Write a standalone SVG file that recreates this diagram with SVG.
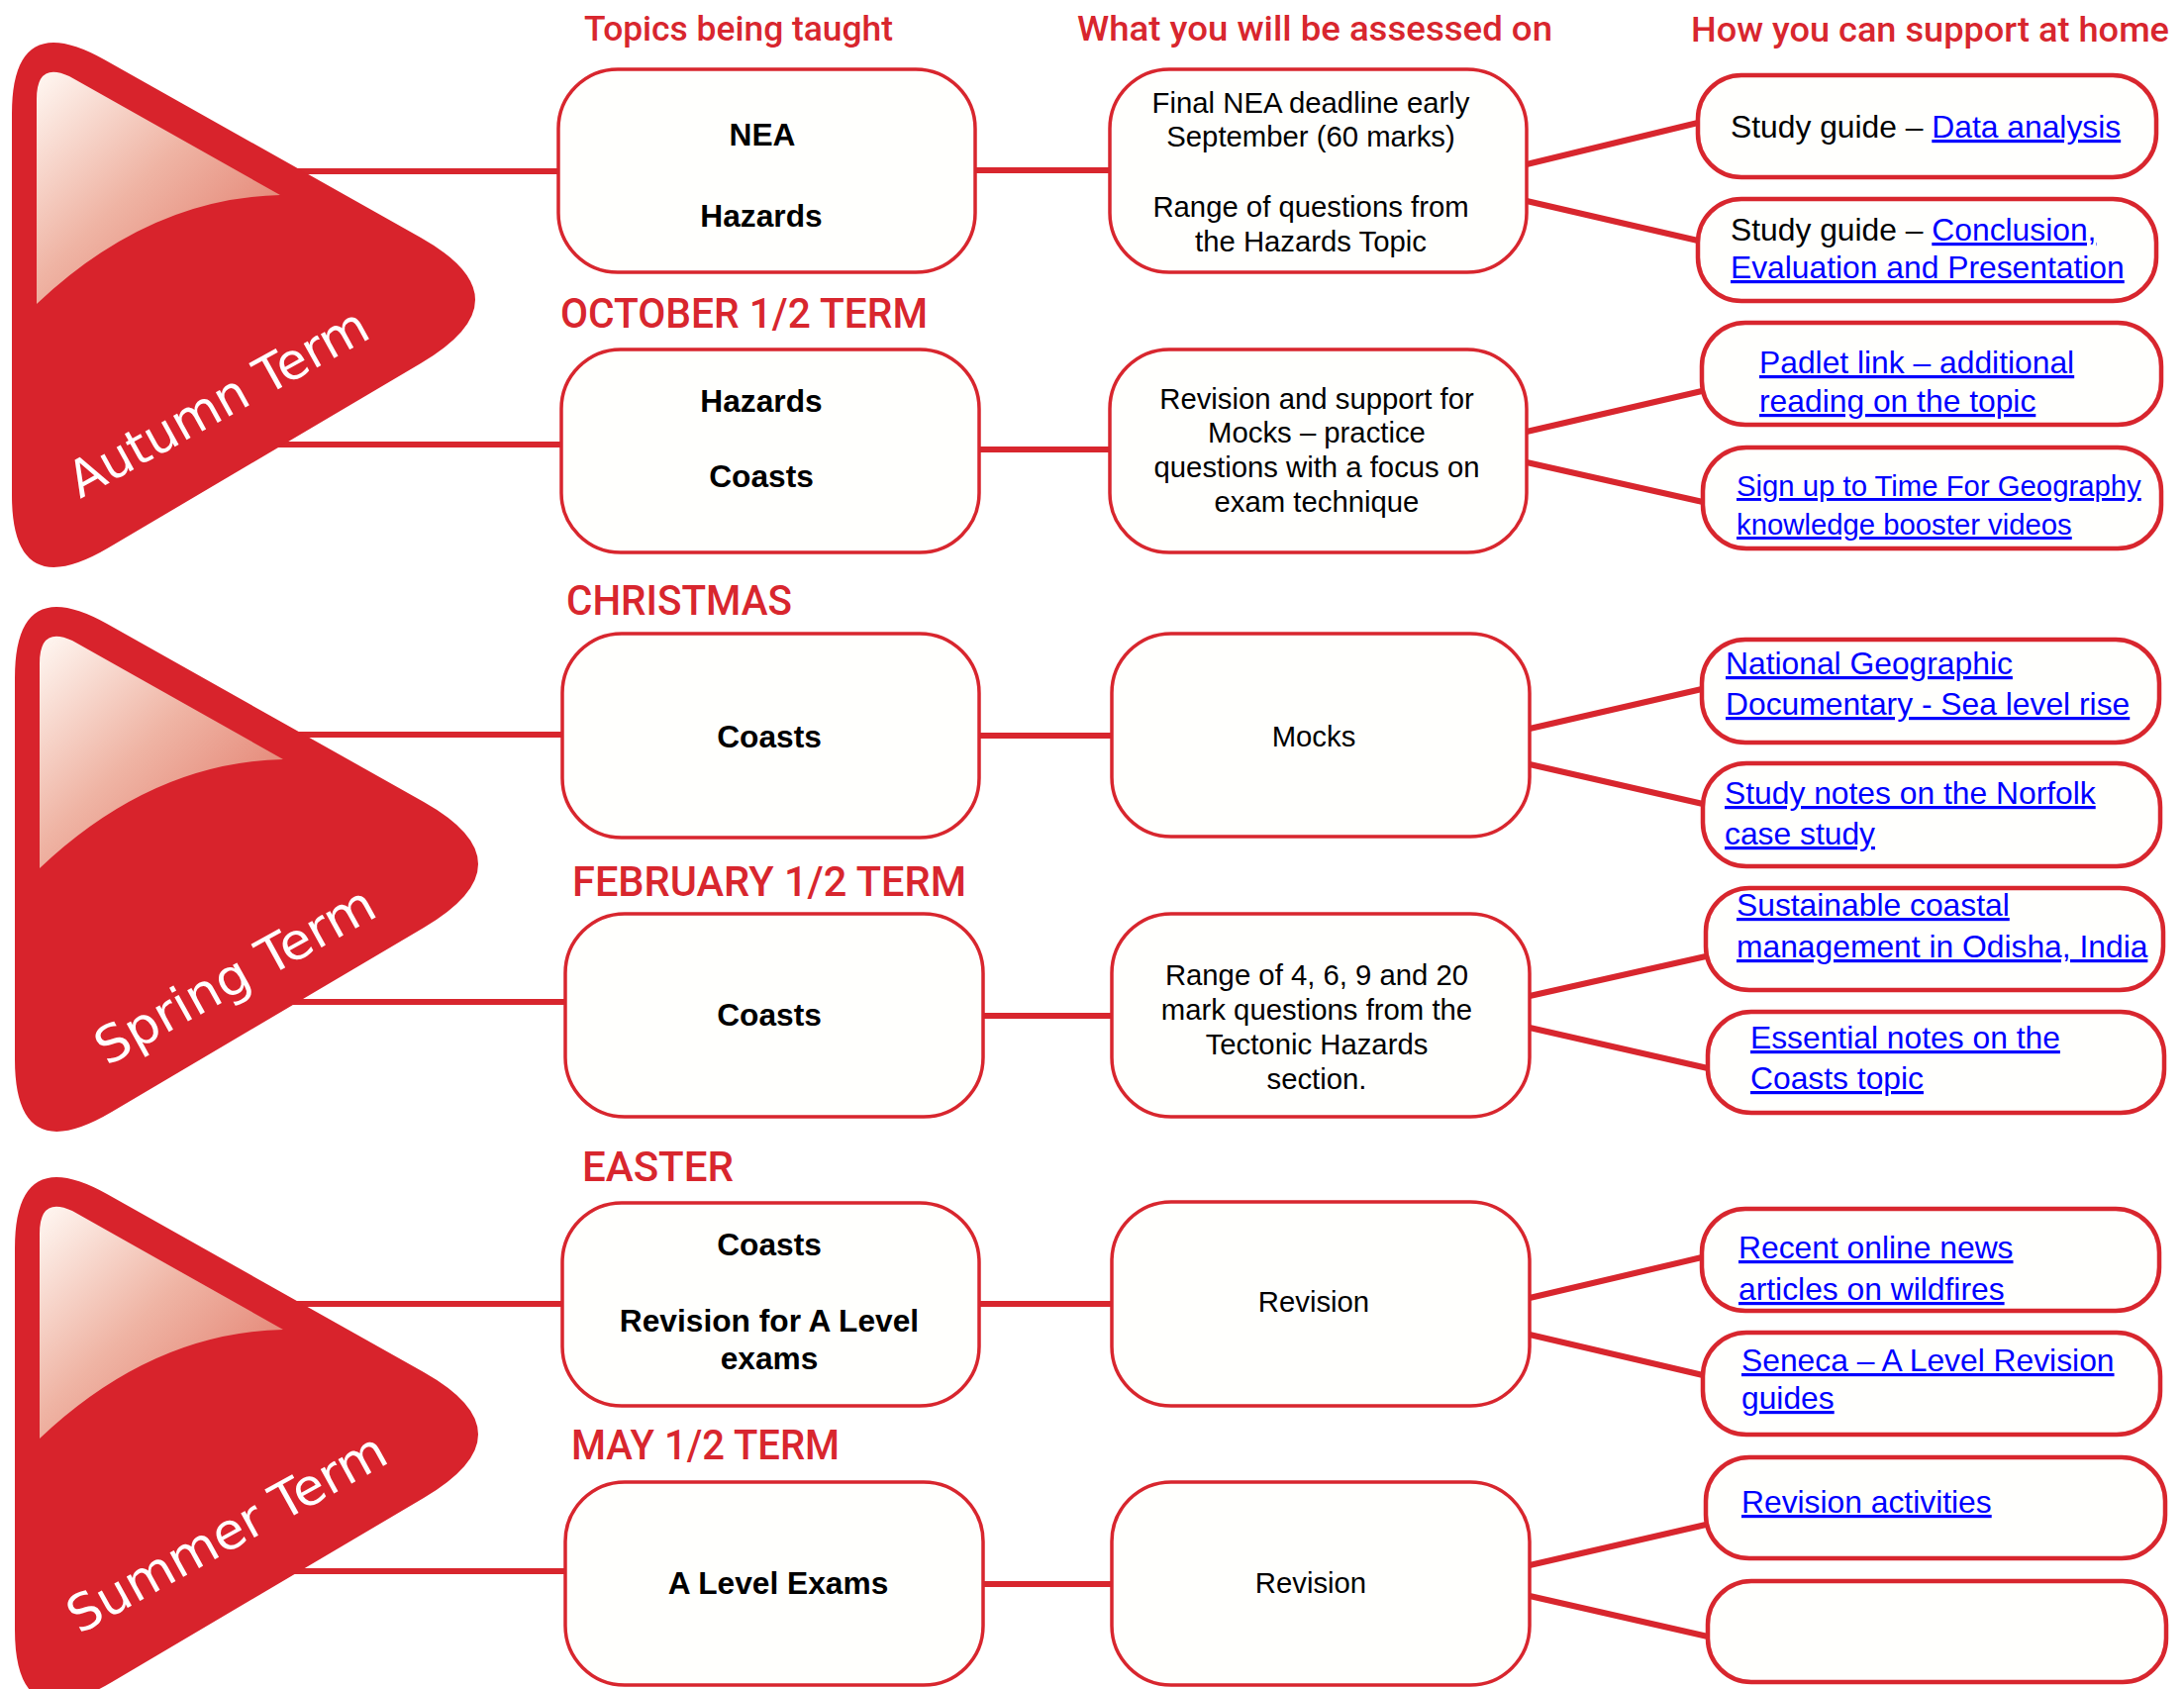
<svg xmlns="http://www.w3.org/2000/svg" width="2206" height="1706" viewBox="0 0 2206 1706">
<defs>
<linearGradient id="hl" x1="0" y1="0" x2="1" y2="1">
<stop offset="0" stop-color="#fff8f3"/>
<stop offset="0.45" stop-color="#efb4a4"/>
<stop offset="1" stop-color="#df6f5f"/>
</linearGradient>
<g id="tri">
<path d="M 12,115 Q 12,8 105,60 L 425,240 Q 535,302 425,367 L 110,553 Q 12,611 12,500 Z" fill="#d8232c"/>
<path d="M 37,100 Q 37,62 70,77 L 283,197 Q 150,200 37,307 Z" fill="url(#hl)"/>
</g>
</defs>
<style>
.conn{stroke:#d8262e;stroke-width:6;fill:none}
.b1{fill:#fffffd;stroke:#d8262e;stroke-width:3.5}
.b3{fill:#fffffd;stroke:#d8262e;stroke-width:4.5}
.hd{font-family:Roboto,"Liberation Sans",sans-serif;font-weight:500;fill:#d8262e;font-size:35px}
.br{font-family:Roboto,"Liberation Sans",sans-serif;font-weight:500;fill:#d8262e;font-size:43px}
.t1{font-family:"Liberation Sans",Arial,sans-serif;font-weight:bold;font-size:31.7px;fill:#000;text-anchor:middle}
.t2{font-family:"Liberation Sans",Arial,sans-serif;font-size:29.3px;fill:#000;text-anchor:middle}
.t3{font-family:"Liberation Sans",Arial,sans-serif;font-size:31.8px;fill:#000}
.lk{fill:#0000ff;text-decoration:underline}
.term{font-family:"DejaVu Sans","Open Sans",sans-serif;font-size:51px;fill:#fff}
</style>

<g id="connectors">
<line class="conn" x1="250" y1="173" x2="564" y2="173"/>
<line class="conn" x1="250" y1="449" x2="567" y2="449"/>
<line class="conn" x1="250" y1="742" x2="568" y2="742"/>
<line class="conn" x1="250" y1="1012" x2="571" y2="1012"/>
<line class="conn" x1="250" y1="1317" x2="568" y2="1317"/>
<line class="conn" x1="250" y1="1587" x2="571" y2="1587"/>
<line class="conn" x1="985" y1="172" x2="1121" y2="172"/>
<line class="conn" x1="989" y1="454" x2="1121" y2="454"/>
<line class="conn" x1="989" y1="743" x2="1123" y2="743"/>
<line class="conn" x1="993" y1="1026" x2="1123" y2="1026"/>
<line class="conn" x1="989" y1="1317" x2="1123" y2="1317"/>
<line class="conn" x1="993" y1="1600" x2="1123" y2="1600"/>
<line class="conn" x1="1542" y1="166" x2="1715" y2="124"/>
<line class="conn" x1="1542" y1="203" x2="1715" y2="243"/>
<line class="conn" x1="1542" y1="436" x2="1719" y2="395"/>
<line class="conn" x1="1542" y1="467" x2="1720" y2="507"/>
<line class="conn" x1="1545" y1="736" x2="1719" y2="696"/>
<line class="conn" x1="1545" y1="772" x2="1720" y2="812"/>
<line class="conn" x1="1545" y1="1006" x2="1723" y2="966"/>
<line class="conn" x1="1545" y1="1038" x2="1725" y2="1079"/>
<line class="conn" x1="1545" y1="1311" x2="1719" y2="1270"/>
<line class="conn" x1="1545" y1="1348" x2="1720" y2="1389"/>
<line class="conn" x1="1545" y1="1581" x2="1723" y2="1540"/>
<line class="conn" x1="1545" y1="1612" x2="1725" y2="1653"/>
</g>

<g id="autumn-term">
<use href="#tri"/>
<text class="term" x="81" y="504" transform="rotate(-29 81 504)" textLength="338" lengthAdjust="spacingAndGlyphs">Autumn Term</text>
</g>
<g id="spring-term">
<use href="#tri" transform="translate(3 570)"/>
<text class="term" x="108" y="1077" transform="rotate(-29 108 1077)" textLength="315" lengthAdjust="spacingAndGlyphs">Spring Term</text>
</g>
<g id="summer-term">
<use href="#tri" transform="translate(3 1146)"/>
<text class="term" x="80" y="1651" transform="rotate(-29 80 1651)" textLength="360" lengthAdjust="spacingAndGlyphs">Summer Term</text>
</g>

<g id="headers">
<text class="hd" x="590" y="41" textLength="312" lengthAdjust="spacingAndGlyphs">Topics being taught</text>
<text class="hd" x="1088" y="41" textLength="480" lengthAdjust="spacingAndGlyphs">What you will be assessed on</text>
<text class="hd" x="1708" y="42" textLength="483" lengthAdjust="spacingAndGlyphs">How you can support at home</text>
<text class="br" x="566" y="331" textLength="371" lengthAdjust="spacingAndGlyphs">OCTOBER 1/2 TERM</text>
<text class="br" x="572" y="621" textLength="228" lengthAdjust="spacingAndGlyphs">CHRISTMAS</text>
<text class="br" x="578" y="905" textLength="398" lengthAdjust="spacingAndGlyphs">FEBRUARY 1/2 TERM</text>
<text class="br" x="588" y="1193" textLength="153" lengthAdjust="spacingAndGlyphs">EASTER</text>
<text class="br" x="577" y="1474" textLength="271" lengthAdjust="spacingAndGlyphs">MAY 1/2 TERM</text>
</g>

<g id="topic-a1"><rect class="b1" x="564" y="70" width="421" height="205" rx="60"/>
<text class="t1" x="770" y="147">NEA</text><text class="t1" x="769" y="229">Hazards</text></g>
<g id="topic-a2"><rect class="b1" x="567" y="353" width="422" height="205" rx="60"/>
<text class="t1" x="769" y="416">Hazards</text><text class="t1" x="769" y="492">Coasts</text></g>
<g id="topic-s1"><rect class="b1" x="568" y="640" width="421" height="206" rx="60"/>
<text class="t1" x="777" y="755">Coasts</text></g>
<g id="topic-s2"><rect class="b1" x="571" y="923" width="422" height="205" rx="60"/>
<text class="t1" x="777" y="1036">Coasts</text></g>
<g id="topic-u1"><rect class="b1" x="568" y="1215" width="421" height="205" rx="60"/>
<text class="t1" x="777" y="1268">Coasts</text><text class="t1" x="777" y="1345">Revision for A Level</text><text class="t1" x="777" y="1383">exams</text></g>
<g id="topic-u2"><rect class="b1" x="571" y="1497" width="422" height="205" rx="60"/>
<text class="t1" x="786" y="1610">A Level Exams</text></g>

<g id="assess-a1"><rect class="b1" x="1121" y="70" width="421" height="205" rx="60"/>
<text class="t2" x="1324" y="114">Final NEA deadline early</text><text class="t2" x="1324" y="148">September (60 marks)</text>
<text class="t2" x="1324" y="219">Range of questions from</text><text class="t2" x="1324" y="254">the Hazards Topic</text></g>
<g id="assess-a2"><rect class="b1" x="1121" y="353" width="421" height="205" rx="60"/>
<text class="t2" x="1330" y="413">Revision and support for</text><text class="t2" x="1330" y="447">Mocks – practice</text>
<text class="t2" x="1330" y="482">questions with a focus on</text><text class="t2" x="1330" y="517">exam technique</text></g>
<g id="assess-s1"><rect class="b1" x="1123" y="640" width="422" height="205" rx="60"/>
<text class="t2" x="1327" y="754">Mocks</text></g>
<g id="assess-s2"><rect class="b1" x="1123" y="923" width="422" height="205" rx="60"/>
<text class="t2" x="1330" y="995">Range of 4, 6, 9 and 20</text><text class="t2" x="1330" y="1030">mark questions from the</text>
<text class="t2" x="1330" y="1065">Tectonic Hazards</text><text class="t2" x="1330" y="1100">section.</text></g>
<g id="assess-u1"><rect class="b1" x="1123" y="1214" width="422" height="206" rx="60"/>
<text class="t2" x="1327" y="1325">Revision</text></g>
<g id="assess-u2"><rect class="b1" x="1123" y="1497" width="422" height="205" rx="60"/>
<text class="t2" x="1324" y="1609">Revision</text></g>

<g id="home-1"><rect class="b3" x="1715" y="76" width="463" height="103" rx="44"/>
<text class="t3" x="1748" y="139">Study guide – <tspan class="lk">Data analysis</tspan></text></g>
<g id="home-2"><rect class="b3" x="1715" y="201" width="463" height="103" rx="44"/>
<text class="t3" x="1748" y="243">Study guide – <tspan class="lk">Conclusion,</tspan></text>
<text class="t3 lk" x="1748" y="281">Evaluation and Presentation</text></g>
<g id="home-3"><rect class="b3" x="1719" y="326" width="464" height="103" rx="44"/>
<text class="t3 lk" x="1777" y="377">Padlet link – additional</text>
<text class="t3 lk" x="1777" y="416">reading on the topic</text></g>
<g id="home-4"><rect class="b3" x="1720" y="452" width="463" height="102" rx="44"/>
<text class="t3 lk" x="1754" y="501" style="font-size:29.3px">Sign up to Time For Geography</text>
<text class="t3 lk" x="1754" y="540" style="font-size:29.3px">knowledge booster videos</text></g>
<g id="home-5"><rect class="b3" x="1719" y="646" width="462" height="104" rx="44"/>
<text class="t3 lk" x="1743" y="681">National Geographic</text>
<text class="t3 lk" x="1743" y="722">Documentary - Sea level rise</text></g>
<g id="home-6"><rect class="b3" x="1720" y="771" width="462" height="104" rx="44"/>
<text class="t3 lk" x="1742" y="812">Study notes on the Norfolk</text>
<text class="t3 lk" x="1742" y="853">case study</text></g>
<g id="home-7"><rect class="b3" x="1723" y="897" width="462" height="103" rx="44"/>
<text class="t3 lk" x="1754" y="925">Sustainable coastal</text>
<text class="t3 lk" x="1754" y="967">management in Odisha, India</text></g>
<g id="home-8"><rect class="b3" x="1725" y="1022" width="461" height="102" rx="44"/>
<text class="t3 lk" x="1768" y="1059">Essential notes on the</text>
<text class="t3 lk" x="1768" y="1100">Coasts topic</text></g>
<g id="home-9"><rect class="b3" x="1719" y="1221" width="462" height="103" rx="44"/>
<text class="t3 lk" x="1756" y="1271">Recent online news</text>
<text class="t3 lk" x="1756" y="1313">articles on wildfires</text></g>
<g id="home-10"><rect class="b3" x="1720" y="1346" width="462" height="103" rx="44"/>
<text class="t3 lk" x="1759" y="1385">Seneca – A Level Revision</text>
<text class="t3 lk" x="1759" y="1423">guides</text></g>
<g id="home-11"><rect class="b3" x="1723" y="1472" width="464" height="102" rx="44"/>
<text class="t3 lk" x="1759" y="1528">Revision activities</text></g>
<g id="home-12"><rect class="b3" x="1725" y="1597" width="463" height="102" rx="44"/></g>
</svg>
